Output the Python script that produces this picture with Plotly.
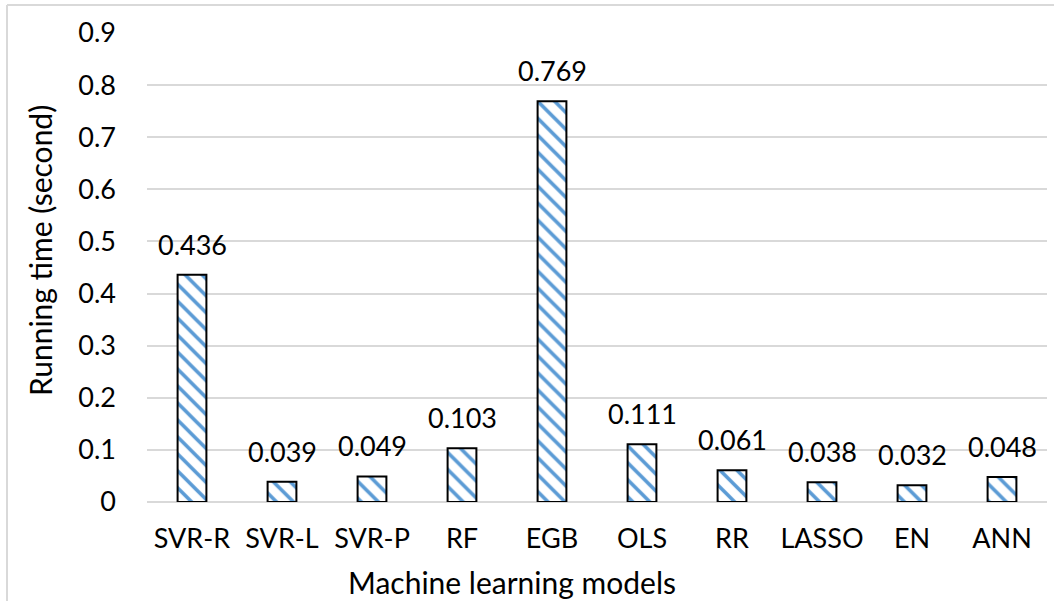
import plotly.graph_objects as go

models = ["SVR-R", "SVR-L", "SVR-P", "RF", "EGB", "OLS", "RR", "LASSO", "EN", "ANN"]
running_time = [0.436, 0.039, 0.049, 0.103, 0.769, 0.111, 0.061, 0.038, 0.032, 0.048]
y_ticks = [0, 0.1, 0.2, 0.3, 0.4, 0.5, 0.6, 0.7, 0.8, 0.9]
y_tick_labels = ["0", "0.1", "0.2", "0.3", "0.4", "0.5", "0.6", "0.7", "0.8", "0.9"]

FONT = "Lato, Calibri, Carlito, sans-serif"
FS = 27
FT = 30
W, H = 1054, 601
ML, MR, MT, MB = 147, 7, 33, 99
PW, PH = W - ML - MR, H - MT - MB

fig = go.Figure()
fig.add_trace(go.Bar(
    x=models, y=running_time,
    marker=dict(
        color="white",
        line=dict(color="black", width=2),
        pattern=dict(shape="\\", fgcolor="#5B9BD5", bgcolor="white", size=12, solidity=0.3, fillmode="replace"),
    ),
    hoverinfo="skip",
))

annotations = []
for m, v in zip(models, running_time):
    annotations.append(dict(
        x=m, y=v, xref="x", yref="y", text=f"{v:.3f}", showarrow=False,
        yanchor="bottom", yshift=12, font=dict(family=FONT, size=FS, color="black"),
    ))

annotations.append(dict(
    x=(512 - ML) / PW, y=-(582 - (H - MB)) / PH, xref="paper", yref="paper",
    text="Machine learning models", showarrow=False, xanchor="center", yanchor="middle",
    font=dict(family=FONT, size=FT, color="black"),
))
annotations.append(dict(
    x=(40 - ML) / PW, y=1 - (251 - MT) / PH, xref="paper", yref="paper",
    text="Running time (second)", showarrow=False, textangle=-90, xanchor="center", yanchor="middle",
    font=dict(family=FONT, size=FT, color="black"),
))

bx = (7 - ML) / PW
by = 1 + (MT - 5) / PH
shapes = [
    dict(type="line", xref="paper", yref="paper", x0=bx, x1=bx, y0=-0.5, y1=by,
         line=dict(color="#D9D9D9", width=2)),
    dict(type="line", xref="paper", yref="paper", x0=bx, x1=1.5, y0=by, y1=by,
         line=dict(color="#D9D9D9", width=2)),
]

fig.update_layout(
    width=W, height=H,
    margin=dict(l=ML, r=MR, t=MT, b=MB),
    paper_bgcolor="white", plot_bgcolor="white",
    showlegend=False,
    bargap=0.68,
    font=dict(family=FONT, size=FS, color="black"),
    xaxis=dict(
        showgrid=False, showline=False, zeroline=False, ticks="",
        tickfont=dict(family=FONT, size=FS, color="black"),
        range=[-0.5, 9.5], ticklabelstandoff=18,
    ),
    yaxis=dict(
        range=[0, 0.9], tickvals=y_ticks, ticktext=y_tick_labels,
        showgrid=True, gridcolor="#D9D9D9", gridwidth=1.5,
        zeroline=True, zerolinecolor="#D9D9D9", zerolinewidth=1.5,
        showline=False, ticks="", ticklabelstandoff=30,
        tickfont=dict(family=FONT, size=FS, color="black"),
    ),
    annotations=annotations,
    shapes=shapes,
)

fig.write_html("out.html")
